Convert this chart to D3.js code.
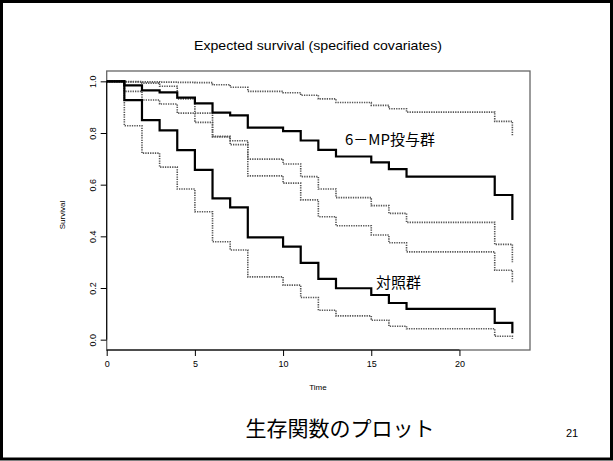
<!DOCTYPE html>
<html>
<head>
<meta charset="utf-8">
<script src="https://cdn.jsdelivr.net/npm/d3@7"></script>
<style>
  body { margin: 0; background: #fff; }
  svg text { font-family: "Liberation Sans", Arial, sans-serif; }
  .jp { font-family: "Noto Sans CJK JP", sans-serif; }
</style>
</head>
<body>
<div id="chart"></div>
<script>
// step times of the curves
var times = [0, 1, 2, 3, 4, 5, 6, 7, 8, 10, 11, 12, 13, 15, 16, 17, 22, 23];

// 6-MP group: estimate and confidence band
var mpSurv  = [1, 0.984, 0.965, 0.957, 0.937, 0.915, 0.879, 0.868, 0.821, 0.807, 0.771, 0.735, 0.709, 0.686, 0.660, 0.631, 0.560, 0.463];
var mpUpper = [1, 0.999, 0.998, 0.997, 0.996, 0.995, 0.987, 0.977, 0.961, 0.956, 0.946, 0.932, 0.918, 0.907, 0.894, 0.881, 0.845, 0.787];
var mpLower = [1, 0.961, 0.928, 0.912, 0.877, 0.841, 0.787, 0.770, 0.699, 0.680, 0.631, 0.583, 0.550, 0.519, 0.489, 0.454, 0.369, 0.300];

// control group: estimate and confidence band
var ctlSurv  = [1, 0.927, 0.850, 0.810, 0.734, 0.657, 0.547, 0.512, 0.396, 0.360, 0.297, 0.235, 0.199, 0.173, 0.142, 0.119, 0.065, 0.025];
var ctlUpper = [1, 0.998, 0.993, 0.981, 0.932, 0.877, 0.785, 0.755, 0.634, 0.606, 0.541, 0.476, 0.441, 0.405, 0.375, 0.340, 0.269, 0.219];
var ctlLower = [1, 0.828, 0.722, 0.668, 0.583, 0.495, 0.379, 0.347, 0.243, 0.211, 0.163, 0.114, 0.092, 0.075, 0.052, 0.042, 0.013, 0.004];

var xTicks = [0, 5, 10, 15, 20];
var yTicks = [0, 0.2, 0.4, 0.6, 0.8, 1.0];

var title = "Expected survival (specified covariates)";
var xLabel = "Time";
var yLabel = "Survival";
var mpName = "6－MP投与群";
var ctlName = "対照群";
var slideTitle = "生存関数のプロット";
var pageNo = "21";

var W = 613, H = 461;
var plot = {left: 106.7, right: 530, top: 71, bottom: 350};

var svg = d3.select("#chart").append("svg")
    .attr("width", W)
    .attr("height", H);

// slide frame
svg.append("rect")
    .attr("x", 1.5).attr("y", 1.5)
    .attr("width", W - 3).attr("height", H - 3.5)
    .attr("fill", "#fff")
    .attr("stroke", "#000")
    .attr("stroke-width", 3);

var x = d3.scaleLinear().domain([0, 24]).range([plot.left, plot.right]);
var y = d3.scaleLinear().domain([-0.04, 1.04]).range([plot.bottom, plot.top]);

// plot box
svg.append("rect")
    .attr("x", plot.left).attr("y", plot.top)
    .attr("width", plot.right - plot.left)
    .attr("height", plot.bottom - plot.top)
    .attr("fill", "none")
    .attr("stroke", "#666")
    .attr("stroke-width", 1.3);

var line = d3.line()
    .x(function (d) { return x(d[0]); })
    .y(function (d) { return y(d[1]); })
    .curve(d3.curveStepAfter);

function pts(vals) {
    return times.map(function (t, i) { return [t, vals[i]]; });
}

// confidence bands, dotted
[mpUpper, mpLower, ctlUpper, ctlLower].forEach(function (v) {
    svg.append("path")
        .attr("d", line(pts(v)))
        .attr("fill", "none")
        .attr("stroke", "#555")
        .attr("stroke-width", 1.6)
        .attr("stroke-dasharray", "1.3,1.1");
});

// survival estimates
[mpSurv, ctlSurv].forEach(function (v) {
    svg.append("path")
        .attr("d", line(pts(v)))
        .attr("fill", "none")
        .attr("stroke", "#000")
        .attr("stroke-width", 2.2);
});

// x axis
var xAxis = d3.axisBottom(x).tickValues(xTicks).tickSize(6).tickPadding(5)
    .tickFormat(d3.format("d"));
var gx = svg.append("g")
    .attr("transform", "translate(0," + plot.bottom + ")")
    .call(xAxis);
gx.select(".domain").remove();
gx.selectAll("line").attr("stroke", "#000");
gx.selectAll("text").style("font-size", "9px").attr("fill", "#000");
gx.append("line")
    .attr("x1", x(xTicks[0])).attr("x2", x(xTicks[xTicks.length - 1]))
    .attr("stroke", "#000");

// y axis
var yAxis = d3.axisLeft(y).tickValues(yTicks).tickSize(6).tickFormat(d3.format(".1f"));
var gy = svg.append("g")
    .attr("transform", "translate(" + plot.left + ",0)")
    .call(yAxis);
gy.select(".domain").remove();
gy.selectAll("line").attr("stroke", "#000");
gy.selectAll("text")
    .style("font-size", "9px")
    .attr("fill", "#000")
    .attr("x", 0).attr("dy", null)
    .attr("text-anchor", "middle")
    .attr("transform", "translate(-13,0) rotate(-90)")
    .attr("dominant-baseline", "middle");
gy.append("line")
    .attr("y1", y(yTicks[0])).attr("y2", y(yTicks[yTicks.length - 1]))
    .attr("stroke", "#000");

// titles
svg.append("text")
    .attr("x", 318).attr("y", 50)
    .attr("text-anchor", "middle")
    .attr("textLength", 248)
    .attr("lengthAdjust", "spacingAndGlyphs")
    .style("font-size", "13px")
    .text(title);

svg.append("text")
    .attr("x", 318).attr("y", 390)
    .attr("text-anchor", "middle")
    .attr("fill", "#000")
    .style("font-size", "8px")
    .text(xLabel);

svg.append("text")
    .attr("transform", "translate(65,215) rotate(-90)")
    .attr("text-anchor", "middle")
    .attr("fill", "#000")
    .style("font-size", "8px")
    .text(yLabel);

// group labels
svg.append("text")
    .attr("class", "jp")
    .attr("x", 345).attr("y", 145)
    .style("font-size", "15px")
    .text(mpName);

svg.append("text")
    .attr("class", "jp")
    .attr("x", 376).attr("y", 288)
    .style("font-size", "15px")
    .text(ctlName);

// slide footer
svg.append("text")
    .attr("class", "jp")
    .attr("x", 340).attr("y", 436)
    .attr("text-anchor", "middle")
    .style("font-size", "21px")
    .text(slideTitle);

svg.append("text")
    .attr("x", 572).attr("y", 437)
    .attr("text-anchor", "middle")
    .style("font-size", "11px")
    .text(pageNo);
</script>
</body>
</html>
